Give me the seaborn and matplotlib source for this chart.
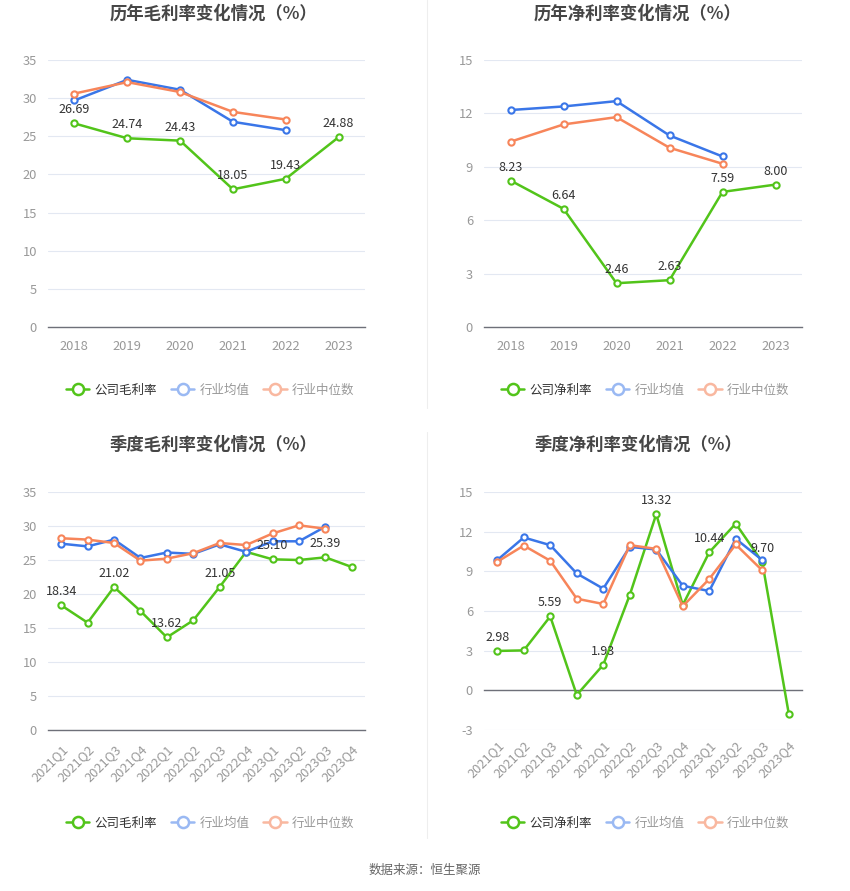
import numpy as np
import pandas as pd
import matplotlib
matplotlib.use("Agg")
import matplotlib.pyplot as plt
from matplotlib.lines import Line2D
import seaborn as sns

sns.set_theme(style="white")
plt.rcParams['font.family'] = ['Noto Sans CJK SC', 'DejaVu Sans']

# ---------------- data ----------------
years = ["2018", "2019", "2020", "2021", "2022", "2023"]
years_ind = ["2018", "2019", "2020", "2021", "2022"]
gross_company = [26.69, 24.74, 24.43, 18.05, 19.43, 24.88]
gross_mean = [29.7, 32.4, 31.1, 26.9, 25.8]
gross_median = [30.6, 32.1, 30.8, 28.2, 27.2]

net_company = [8.23, 6.64, 2.46, 2.63, 7.59, 8.00]
net_mean = [12.19, 12.39, 12.69, 10.76, 9.58]
net_median = [10.41, 11.38, 11.79, 10.07, 9.17]

quarters = ["2021Q1", "2021Q2", "2021Q3", "2021Q4", "2022Q1", "2022Q2",
            "2022Q3", "2022Q4", "2023Q1", "2023Q2", "2023Q3", "2023Q4"]
quarters_ind = quarters[:11]
q_gross_company = [18.34, 15.78, 21.02, 17.5, 13.62, 16.13, 21.05, 26.2, 25.10, 25.0, 25.39, 23.97]
q_gross_mean = [27.4, 27.0, 28.0, 25.3, 26.1, 25.9, 27.3, 26.2, 27.75, 27.75, 29.9]
q_gross_median = [28.2, 28.0, 27.5, 24.9, 25.2, 26.0, 27.5, 27.2, 28.9, 30.1, 29.6]

q_net_company = [2.98, 3.02, 5.59, -0.35, 1.93, 7.21, 13.32, 6.45, 10.44, 12.61, 9.70, -1.76]
q_net_mean = [9.85, 11.56, 10.98, 8.84, 7.69, 10.85, 10.65, 7.91, 7.51, 11.46, 9.85]
q_net_median = [9.72, 10.95, 9.80, 6.93, 6.53, 10.98, 10.70, 6.36, 8.42, 11.03, 9.07]

titles = ["历年毛利率变化情况（%）", "历年净利率变化情况（%）",
          "季度毛利率变化情况（%）", "季度净利率变化情况（%）"]
legend_names = [["公司毛利率", "行业均值", "行业中位数"],
                ["公司净利率", "行业均值", "行业中位数"],
                ["公司毛利率", "行业均值", "行业中位数"],
                ["公司净利率", "行业均值", "行业中位数"]]

GREEN = "#52c41a"
BLUE = "#3a76e8"
ORANGE = "#f7855a"
GREEN_L = "#52c41a"
BLUE_L = "#9ab9f3"
ORANGE_L = "#f9b8a0"
GRID = "#e3e8f2"
TICK = "#999999"

W, H = 850, 891
fig = plt.figure(figsize=(W / 100, H / 100), dpi=100)
fig.patch.set_facecolor("white")


def px_axes(x0, y0, x1, y1):
    return fig.add_axes([x0 / W, 1 - y1 / H, (x1 - x0) / W, (y1 - y0) / H])


panels = [
    dict(box=(48, 60, 365, 327), cats=years, cats_ind=years_ind,
         comp=gross_company, mean=gross_mean, med=gross_median,
         ylim=(0, 35), yticks=[0, 5, 10, 15, 20, 25, 30, 35],
         label_idx=list(range(6)), rot=0, tcx=213, ty=14, ly=390, lcx=210),
    dict(box=(484, 60, 802, 327), cats=years, cats_ind=years_ind,
         comp=net_company, mean=net_mean, med=net_median,
         ylim=(0, 15), yticks=[0, 3, 6, 9, 12, 15],
         label_idx=list(range(6)), rot=0, tcx=638, ty=14, ly=390, lcx=645),
    dict(box=(48, 492, 365, 730), cats=quarters, cats_ind=quarters_ind,
         comp=q_gross_company, mean=q_gross_mean, med=q_gross_median,
         ylim=(0, 35), yticks=[0, 5, 10, 15, 20, 25, 30, 35],
         label_idx=[0, 2, 4, 6, 8, 10], rot=45, tcx=213, ty=445, ly=823, lcx=210),
    dict(box=(484, 492, 802, 730), cats=quarters, cats_ind=quarters_ind,
         comp=q_net_company, mean=q_net_mean, med=q_net_median,
         ylim=(-3, 15), yticks=[-3, 0, 3, 6, 9, 12, 15],
         label_idx=[0, 2, 4, 6, 8, 10], rot=45, tcx=638, ty=445, ly=823, lcx=645),
]

TFS = 9.3

for i, p in enumerate(panels):
    ax = px_axes(*p["box"])
    mk = dict(marker="o", markersize=4.5, markerfacecolor="white",
              markeredgewidth=1.5, linewidth=1.8)
    sns.lineplot(x=p["cats"], y=p["comp"], color=GREEN, markeredgecolor=GREEN,
                 ax=ax, zorder=3, **mk)
    sns.lineplot(x=p["cats_ind"], y=p["mean"], color=BLUE, markeredgecolor=BLUE,
                 ax=ax, zorder=4, **mk)
    sns.lineplot(x=p["cats_ind"], y=p["med"], color=ORANGE, markeredgecolor=ORANGE,
                 ax=ax, zorder=5, **mk)

    n = len(p["cats"])
    ax.set_xlim(-0.5, n - 0.5)
    ax.set_ylim(*p["ylim"])
    ax.set_yticks(p["yticks"])
    ax.set_yticklabels([str(t) for t in p["yticks"]], color=TICK, fontsize=TFS)
    ax.yaxis.grid(True, color=GRID, linewidth=0.8)
    ax.xaxis.grid(False)
    for s in ["top", "right", "left"]:
        ax.spines[s].set_visible(False)
    ax.spines["bottom"].set_color("#6e7079")
    ax.spines["bottom"].set_linewidth(1.0)
    ax.tick_params(axis="y", length=0, pad=8)

    if p["ylim"][0] < 0:
        ax.spines["bottom"].set_position(("data", 0))
        ax.tick_params(axis="x", length=5, width=1, color="#6e7079",
                       labelbottom=False)
        sec = ax.secondary_xaxis("bottom")
        sec.set_xticks(range(n))
        sec.set_xticklabels(p["cats"], rotation=p["rot"], ha="right",
                            rotation_mode="anchor", color=TICK, fontsize=TFS)
        sec.spines["bottom"].set_visible(False)
        sec.tick_params(axis="x", length=0, pad=6)
    else:
        ax.tick_params(axis="x", length=5, width=1, color="#6e7079", pad=4)
        ax.set_xticks(range(n))
        if p["rot"]:
            ax.set_xticklabels(p["cats"], rotation=p["rot"], ha="right",
                               rotation_mode="anchor", color=TICK, fontsize=TFS)
        else:
            ax.set_xticklabels(p["cats"], color=TICK, fontsize=TFS)
    ax.set_xlabel("")
    ax.set_ylabel("")

    for j in p["label_idx"]:
        v = p["comp"][j]
        ax.annotate(f"{v:.2f}", (j, v), xytext=(0, 5), textcoords="offset points",
                    ha="center", va="bottom", fontsize=9, color="#333333",
                    zorder=10)

    fig.text(p["tcx"] / W, 1 - p["ty"] / H, titles[i], ha="center", va="center",
             fontsize=12.5, fontweight="bold", color="#464646")

    handles = [
        Line2D([], [], color=GREEN_L, marker="o", markersize=8,
               markerfacecolor="white", markeredgewidth=1.8, linewidth=1.8),
        Line2D([], [], color=BLUE_L, marker="o", markersize=8,
               markerfacecolor="white", markeredgewidth=1.8, linewidth=1.8),
        Line2D([], [], color=ORANGE_L, marker="o", markersize=8,
               markerfacecolor="white", markeredgewidth=1.8, linewidth=1.8),
    ]
    leg = fig.legend(handles, legend_names[i], loc="center",
                     bbox_to_anchor=(p["lcx"] / W, 1 - p["ly"] / H),
                     ncol=3, frameon=False, fontsize=9, handlelength=1.9,
                     handletextpad=0.4, columnspacing=1.1)
    for t, c in zip(leg.get_texts(), ["#333333", "#999999", "#999999"]):
        t.set_color(c)

# dividers
fig.add_artist(Line2D([427 / W, 427 / W], [1 - 0 / H, 1 - 408 / H], color="#eeeeee", linewidth=0.8))
fig.add_artist(Line2D([427 / W, 427 / W], [1 - 432 / H, 1 - 838 / H], color="#eeeeee", linewidth=0.8))

fig.text(425 / W, 1 - 870 / H, "数据来源：恒生聚源", ha="center", va="center",
         fontsize=9, color="#666666")

fig.savefig("out.png", dpi=100, facecolor="white")
